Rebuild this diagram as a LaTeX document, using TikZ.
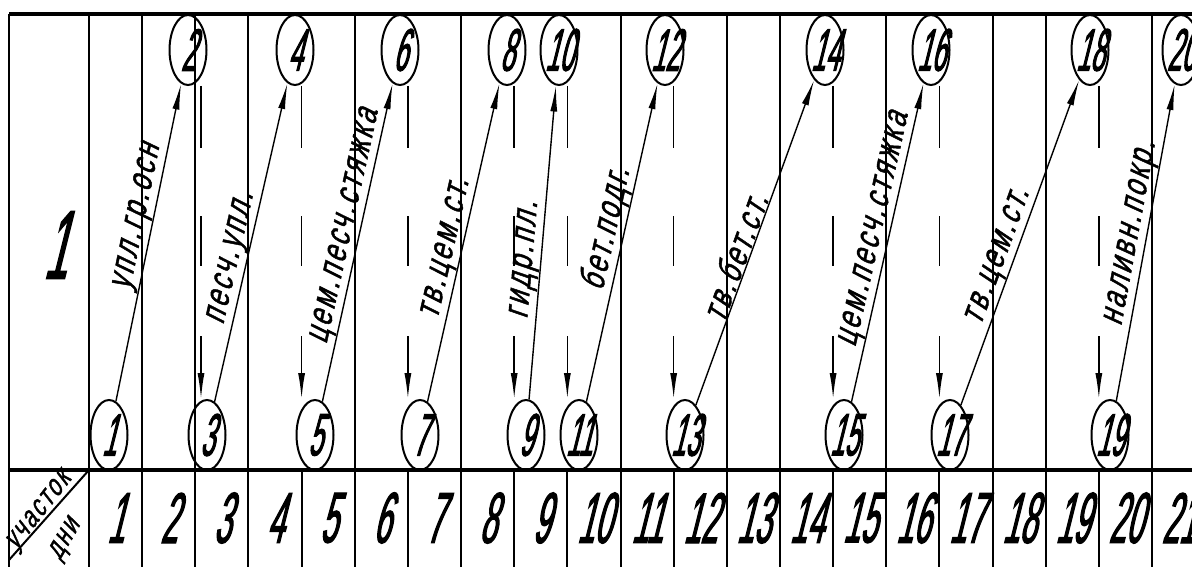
\documentclass[tikz,border=0pt]{standalone}
\usepackage{fontspec}
\setmainfont{Liberation Sans}
\newfontfamily\gnum[FakeSlant=0.25,FakeStretch=0.42,FakeBold=1.6]{Liberation Sans}
\newfontfamily\glbl[FakeSlant=0.25,FakeStretch=0.72,LetterSpace=8,FakeBold=1.2]{Liberation Sans}
\usetikzlibrary{arrows.meta,shapes.geometric}
\tikzset{
  ev/.style={ellipse, draw, line width=2pt, minimum width=37pt, minimum height=70pt, inner sep=0pt},
  evnum/.style={font=\gnum\fontsize{60}{60}\selectfont, inner sep=0pt},
  act/.style={line width=1.4pt, -{Latex[length=26pt,width=7pt]}},
  dep/.style={line width=1.5pt, dash pattern=on 62pt off 68pt on 50pt off 70pt on 300pt, -{Latex[length=26pt,width=7pt]}},
  lbl/.style={sloped, anchor=south, inner sep=0.5pt, font=\glbl\fontsize{36}{38}\selectfont},
  daynum/.style={font=\gnum\fontsize{72}{72}\selectfont, inner sep=0pt},
  grid/.style={line width=2pt},
  frame/.style={line width=3.2pt},
}
\begin{document}
\begin{tikzpicture}[x=1pt,y=-1pt]
\useasboundingbox (0,0) rectangle (1192,567);
% column boundary coordinates
\foreach \k in {1,...,21}{\coordinate (b\k) at ({89+53.15*(\k-1)},0);}
\coordinate (d3) at (201,0);
% frame
\draw[frame] (9,14) -- (1192,14);
\draw[frame] (9,470) -- (1192,470);
\draw[grid] (9,14) -- (9,567);
% solid column lines in the upper part
\foreach \k in {1,2,3,4,6,8,11,13,14,16,18,19,21}{\draw[grid] (b\k |- 0,14) -- (b\k |- 0,470);}
% column lines in the lower row
\foreach \k in {1,...,21}{\draw[grid] (b\k |- 0,470) -- (b\k |- 0,567);}
% day numbers
\foreach \k in {1,...,21}{\node[daynum] (day\k) at ([xshift=26.6pt]b\k |- 0,518) {\k};}
% left cell
\node[font=\gnum\fontsize{98}{98}\selectfont, inner sep=0pt] (uchnum) at (55,245) {1};
\coordinate (dgA) at (89,470);
\coordinate (dgB) at (9,560);
\draw[grid] (dgA) -- (dgB);
\node[rotate=52, font=\glbl\fontsize{30}{30}\selectfont, inner sep=0pt] (uch) at (40,512) {участок};
\node[rotate=60, font=\glbl\fontsize{30}{30}\selectfont, inner sep=0pt] (dni) at (66,540) {дни};
% events
\foreach \n/\x in {2/188,4/295,6/400,8/507,10/559,12/665,14/825,16/931,18/1090,20/1181}
  {\node[ev, label={[evnum]center:\n}] (n\n) at (\x,50) {};}
\foreach \n/\x in {1/109,3/207,5/315,7/420,9/526,11/579,13/685,15/844,17/950,19/1110}
  {\node[ev, label={[evnum]center:\n}] (n\n) at (\x,435) {};}
% works
\draw[act] (n1) -- node[lbl, pos=0.57] {упл.гр.осн} (n2);
\draw[act] (n3) -- node[lbl, pos=0.44] {песч.упл.} (n4);
\draw[act] (n5) -- node[lbl, pos=0.54] {цем.песч.стяжка} (n6);
\draw[act] (n7) -- node[lbl, pos=0.47] {тв.цем.ст.} (n8);
\draw[act] (n9) -- node[lbl, pos=0.44] {гидр.пл.} (n10);
\draw[act] (n11) -- node[lbl, pos=0.53] {бет.подг.} (n12);
\draw[act] (n13) -- node[lbl, pos=0.44] {тв.бет.ст.} (n14);
\draw[act] (n15) -- node[lbl, pos=0.53] {цем.песч.стяжка} (n16);
\draw[act] (n17) -- node[lbl, pos=0.44] {тв.цем.ст.} (n18);
\draw[act] (n19) -- node[lbl, pos=0.52] {наливн.покр.} (n20);
% dependencies
\draw[dep] (n2.south -| d3) -- (n3.north -| d3);
\draw[dep] (n4.south -| b5) -- (n5.north -| b5);
\draw[dep] (n6.south -| b7) -- (n7.north -| b7);
\draw[dep] (n8.south -| b9) -- (n9.north -| b9);
\draw[dep] (n10.south -| b10) -- (n11.north -| b10);
\draw[dep] (n12.south -| b12) -- (n13.north -| b12);
\draw[dep] (n14.south -| b15) -- (n15.north -| b15);
\draw[dep] (n16.south -| b17) -- (n17.north -| b17);
\draw[dep] (n18.south -| b20) -- (n19.north -| b20);
\end{tikzpicture}
\end{document}
